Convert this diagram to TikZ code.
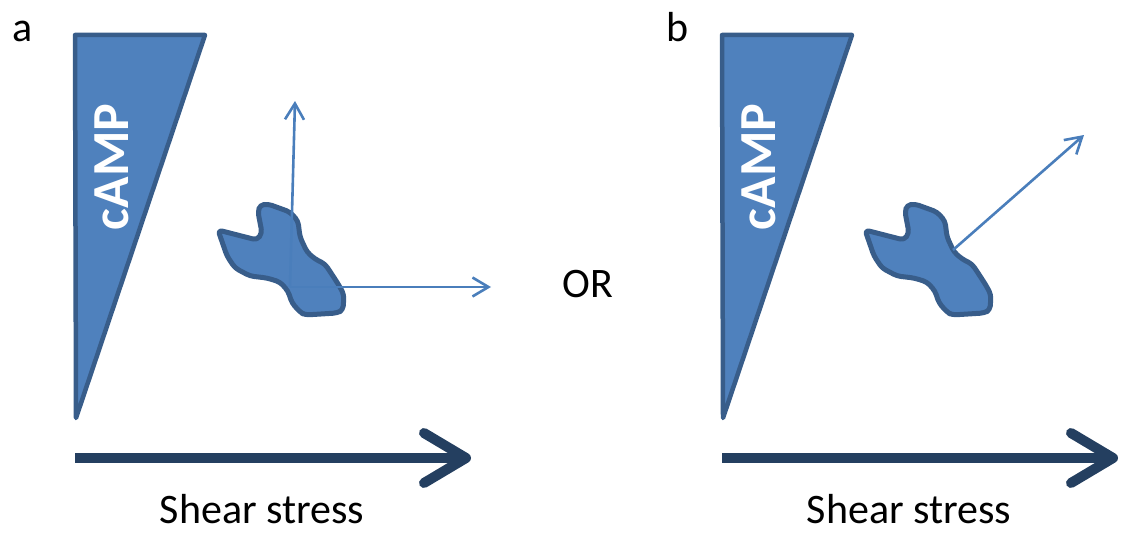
\documentclass[tikz,border=0pt]{standalone}
\usepackage{fontspec}
\setmainfont{Carlito}
\usetikzlibrary{arrows.meta}

\definecolor{cellfill}{HTML}{4F81BD}
\definecolor{celledge}{HTML}{385D8A}
\definecolor{vecblue}{HTML}{4A7EBB}
\definecolor{shearnavy}{HTML}{243F60}

\begin{document}
\begin{tikzpicture}[
  x=1pt, y=-1pt,
  wedge/.style={draw=celledge, fill=cellfill, line width=4.5pt, line join=round},
  cellbody/.style={draw=celledge, fill=cellfill, line width=5pt, line join=round, rounded corners=4pt},
  vec/.style={-{Straight Barb[length=16pt,width=19pt]}, draw=vecblue, line width=2.6pt},
  shear/.style={-{Straight Barb[length=42pt,width=50pt,round]}, draw=shearnavy, line width=10pt},
  panel/.style={font=\fontsize{42}{50}\selectfont, anchor=base west, inner sep=0pt},
  lbl/.style={font=\fontsize{42}{50}\selectfont, anchor=base, inner sep=0pt},
  camp/.style={font=\fontsize{52}{60}\selectfont\bfseries, text=white, rotate=90, inner sep=0pt},
  pics/cell/.style={code={
    \draw[cellbody] (0,0) -- (39,10) -- (44,3) -- (40,-18) -- (42,-25) -- (50,-26)
      -- (72,-18) -- (80,-9) -- (82,7) -- (89,22) -- (97,29) -- (107,34) -- (115,46)
      -- (122,57) -- (126,65) -- (125,80) -- (119,83) -- (87,85) -- (82,82) -- (74,73)
      -- (70,61) -- (62,52) -- (49,48) -- (32,46) -- (17,38) -- (9,26) -- cycle;
  }}
]
\useasboundingbox (0,0) rectangle (1124,535);

% panel a: two separate cues
\node[panel] (tag-a) at (12,42) {a};
\draw[wedge] (75,35) -- (205,35) -- (76,418) -- cycle;
\node[camp] (camp-a) at (112,167) {cAMP};
\pic at (218,230) {cell};
\coordinate (pol-a) at (290,287);
\coordinate (up-a) at (295,101);
\coordinate (fwd-a) at (491,287);
\draw[vec] (pol-a) -- (up-a);
\draw[vec] (pol-a) -- (fwd-a);
\coordinate (flow-a0) at (75,458);
\coordinate (flow-a1) at (471,458);
\draw[shear] (flow-a0) -- (flow-a1);
\node[lbl] (shear-a) at (262,523) {Shear stress};

\node[lbl] (or) at (588,297) {OR};

% panel b: combined response
\node[panel] (tag-b) at (666,42) {b};
\draw[wedge] (722,35) -- (852,35) -- (723,418) -- cycle;
\node[camp] (camp-b) at (759,167) {cAMP};
\pic at (865,230) {cell};
\coordinate (pol-b) at (953,250);
\coordinate (sum-b) at (1084,135);
\draw[vec] (pol-b) -- (sum-b);
\coordinate (flow-b0) at (722,458);
\coordinate (flow-b1) at (1118,458);
\draw[shear] (flow-b0) -- (flow-b1);
\node[lbl] (shear-b) at (909,523) {Shear stress};
\end{tikzpicture}
\end{document}
